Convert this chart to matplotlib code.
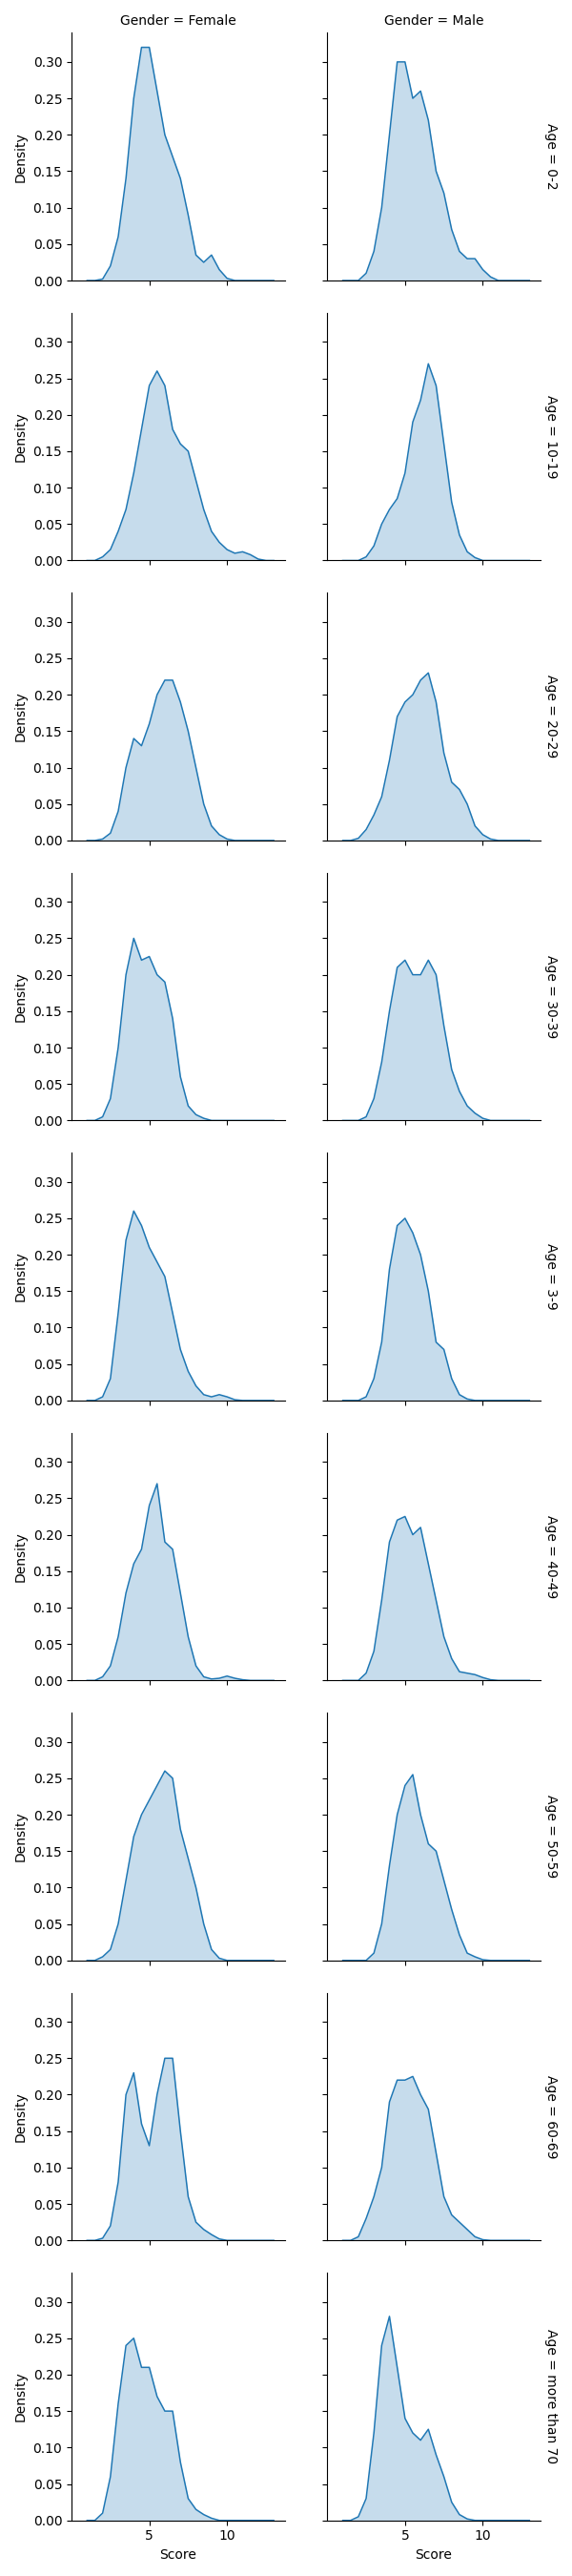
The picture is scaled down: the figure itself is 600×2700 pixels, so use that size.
import numpy as np
import matplotlib
matplotlib.use("Agg")
import matplotlib.pyplot as plt

x = np.arange(1, 13.01, 0.5)  # 25 grid points
genders = ["Female", "Male"]
ages = ["0-2", "10-19", "20-29", "30-39", "3-9", "40-49", "50-59", "60-69", "more than 70"]

def arr(d):
    a = np.zeros(len(x))
    for k, v in d.items():
        a[k] = v
    return a

dens = {
 ("0-2","Female"): arr({2:.002,3:.02,4:.06,5:.14,6:.25,7:.32,8:.32,9:.26,10:.2,11:.17,12:.14,13:.09,14:.035,15:.025,16:.035,17:.015,18:.003}),
 ("0-2","Male"): arr({3:.01,4:.04,5:.1,6:.2,7:.3,8:.3,9:.25,10:.26,11:.22,12:.15,13:.12,14:.07,15:.04,16:.03,17:.03,18:.015,19:.005}),
 ("10-19","Female"): arr({2:.005,3:.015,4:.04,5:.07,6:.12,7:.18,8:.24,9:.26,10:.24,11:.18,12:.16,13:.15,14:.11,15:.07,16:.04,17:.025,18:.015,19:.01,20:.012,21:.008,22:.002}),
 ("10-19","Male"): arr({3:.005,4:.02,5:.05,6:.07,7:.085,8:.12,9:.19,10:.22,11:.27,12:.24,13:.16,14:.08,15:.035,16:.012,17:.004}),
 ("20-29","Female"): arr({2:.002,3:.01,4:.04,5:.1,6:.14,7:.13,8:.16,9:.2,10:.22,11:.22,12:.19,13:.15,14:.1,15:.05,16:.02,17:.008,18:.002}),
 ("20-29","Male"): arr({2:.003,3:.015,4:.035,5:.06,6:.11,7:.17,8:.19,9:.2,10:.22,11:.23,12:.19,13:.12,14:.08,15:.07,16:.05,17:.02,18:.008,19:.002}),
 ("30-39","Female"): arr({2:.005,3:.03,4:.1,5:.2,6:.25,7:.22,8:.225,9:.2,10:.19,11:.14,12:.06,13:.02,14:.008,15:.003}),
 ("30-39","Male"): arr({3:.005,4:.03,5:.08,6:.15,7:.21,8:.22,9:.2,10:.2,11:.22,12:.2,13:.13,14:.07,15:.04,16:.02,17:.01,18:.003}),
 ("3-9","Female"): arr({2:.005,3:.03,4:.12,5:.22,6:.26,7:.24,8:.21,9:.19,10:.17,11:.12,12:.07,13:.04,14:.02,15:.008,16:.005,17:.008,18:.005,19:.001}),
 ("3-9","Male"): arr({3:.005,4:.03,5:.08,6:.18,7:.24,8:.25,9:.23,10:.2,11:.15,12:.08,13:.07,14:.03,15:.008,16:.002}),
 ("40-49","Female"): arr({2:.005,3:.02,4:.06,5:.12,6:.16,7:.18,8:.24,9:.27,10:.19,11:.18,12:.12,13:.06,14:.02,15:.005,16:.002,17:.003,18:.006,19:.003,20:.001}),
 ("40-49","Male"): arr({3:.01,4:.04,5:.11,6:.19,7:.22,8:.225,9:.2,10:.21,11:.16,12:.11,13:.06,14:.03,15:.012,16:.01,17:.008,18:.004,19:.001}),
 ("50-59","Female"): arr({2:.005,3:.015,4:.05,5:.11,6:.17,7:.2,8:.22,9:.24,10:.26,11:.25,12:.18,13:.14,14:.1,15:.05,16:.015,17:.003}),
 ("50-59","Male"): arr({4:.01,5:.05,6:.13,7:.2,8:.24,9:.255,10:.2,11:.16,12:.15,13:.11,14:.07,15:.035,16:.01,17:.005,18:.001}),
 ("60-69","Female"): arr({2:.003,3:.02,4:.08,5:.2,6:.23,7:.16,8:.13,9:.2,10:.25,11:.25,12:.15,13:.06,14:.025,15:.015,16:.008,17:.002}),
 ("60-69","Male"): arr({2:.005,3:.03,4:.06,5:.1,6:.19,7:.22,8:.22,9:.225,10:.2,11:.18,12:.12,13:.06,14:.035,15:.025,16:.015,17:.005,18:.001}),
 ("more than 70","Female"): arr({2:.01,3:.06,4:.16,5:.24,6:.25,7:.21,8:.21,9:.17,10:.15,11:.15,12:.08,13:.03,14:.015,15:.008,16:.003}),
 ("more than 70","Male"): arr({2:.005,3:.03,4:.12,5:.24,6:.28,7:.21,8:.14,9:.12,10:.11,11:.125,12:.09,13:.06,14:.025,15:.008,16:.002}),
}

fig, axes = plt.subplots(len(ages), 2, figsize=(6, 27), sharex=True, sharey=True)
c = "#1f77b4"
for i, a in enumerate(ages):
    for j, g in enumerate(genders):
        ax = axes[i, j]
        y = dens[(a, g)]
        ax.fill_between(x, y, color=c, alpha=0.25, lw=0)
        ax.plot(x, y, color=c, lw=1.1)
        ax.spines["top"].set_visible(False)
        ax.spines["right"].set_visible(False)
        if i == 0:
            ax.set_title(f"Gender = {g}", fontsize=10)
        if j == 0:
            ax.set_ylabel("Density")
        if j == 1:
            ax.text(1.02, 0.5, f"Age = {a}", transform=ax.transAxes, rotation=-90,
                    va="center", ha="left", fontsize=10)
        if i == len(ages) - 1:
            ax.set_xlabel("Score")
ax = axes[0, 0]
ax.set_xlim(0, 13.7)
ax.set_ylim(0, 0.34)
ax.set_xticks([5, 10])
ax.set_yticks(np.arange(0, 0.31, 0.05))
ax.yaxis.set_major_formatter(matplotlib.ticker.FormatStrFormatter("%.2f"))
fig.tight_layout()
fig.subplots_adjust(hspace=0.13, wspace=0.2)
fig.savefig("out.png", dpi=100)
